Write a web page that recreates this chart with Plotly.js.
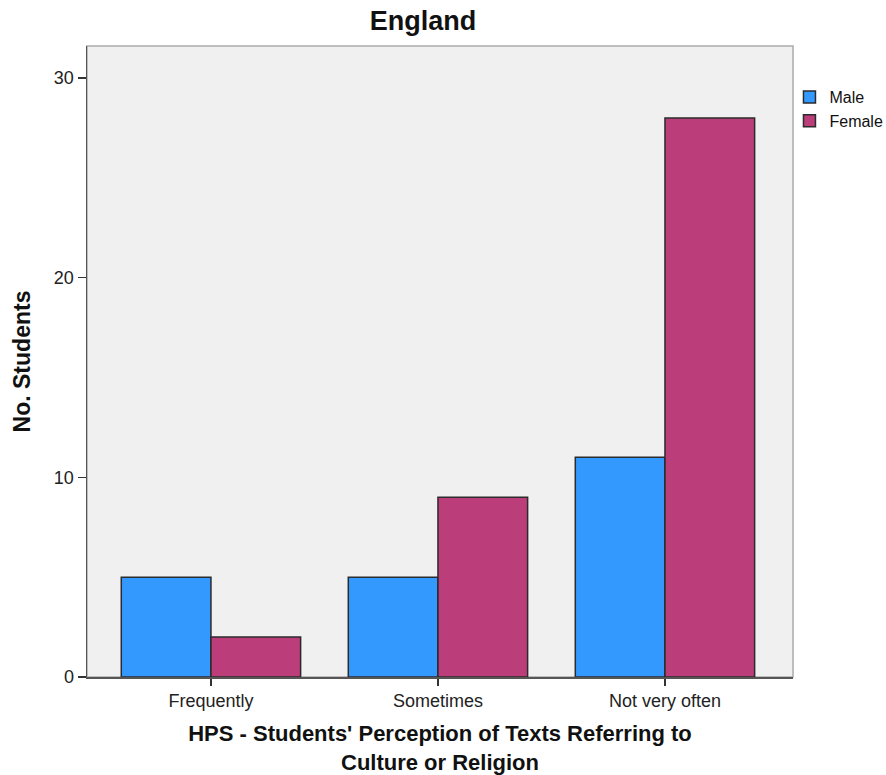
<!DOCTYPE html>
<html>
<head>
<meta charset="utf-8">
<script src="https://cdn.plot.ly/plotly-3.0.1.min.js"></script>
<style>html,body{margin:0;padding:0;background:#fff;}#chart{width:886px;height:775px;}</style>
</head>
<body>
<div id="chart"></div>
<script>
const categories = ["Frequently", "Sometimes", "Not very often"];
const maleCounts = [5, 5, 11];
const femaleCounts = [2, 9, 28];
const seriesNames = ["Male", "Female"];
const yTicks = [0, 10, 20, 30];

const traces = [
  {type: "bar", name: seriesNames[0], x: categories, y: maleCounts,
   marker: {color: "#3399ff", line: {color: "#2b2b2b", width: 1.5}}},
  {type: "bar", name: seriesNames[1], x: categories, y: femaleCounts,
   marker: {color: "#bb3d7a", line: {color: "#2b2b2b", width: 1.5}}}
];

const layout = {
  width: 886, height: 775,
  margin: {l: 87, r: 93, t: 46, b: 98, autoexpand: false},
  paper_bgcolor: "#ffffff",
  plot_bgcolor: "#f0f0f0",
  font: {family: "Liberation Sans, Arial, sans-serif", color: "#222", size: 17},
  title: {text: "<b>England</b>", font: {size: 27, color: "#111"}, x: 0.4774, xref: "container", xanchor: "center", y: 0.973, yanchor: "middle"},
  barmode: "group",
  bargap: 0.21,
  bargroupgap: 0,
  showlegend: true,
  legend: {x: 0.995, xanchor: "left", y: 0.946, yanchor: "top", font: {size: 16, color: "#111"},
           itemwidth: 30, tracegroupgap: 0, bgcolor: "rgba(0,0,0,0)"},
  xaxis: {
    type: "category", range: [-0.546, 2.564],
    showline: true, linecolor: "#555", linewidth: 1.5,
    ticks: "outside", ticklen: 7, tickcolor: "#333", tickwidth: 1.5,
    showgrid: false, zeroline: false,
    tickfont: {size: 18, color: "#222"},
    title: {text: "<b>HPS - Students' Perception of Texts Referring to<br>Culture or Religion</b>", font: {size: 22, color: "#111"}, standoff: 20}
  },
  yaxis: {
    range: [0, 31.6], tickvals: yTicks, ticktext: yTicks.map(String),
    showline: true, linecolor: "#555", linewidth: 1.5,
    ticks: "outside", ticklen: 8, tickcolor: "#333", tickwidth: 1.5,
    showgrid: false, zeroline: false,
    tickfont: {size: 18, color: "#222"},
    title: {text: "<b>No. Students</b>", font: {size: 23, color: "#111"}, standoff: 17}
  },
  shapes: [
    {type: "rect", xref: "paper", yref: "paper", x0: 0, x1: 1, y0: 0, y1: 1,
     line: {color: "#aaaaaa", width: 1.5}, fillcolor: "rgba(0,0,0,0)", layer: "below"}
  ]
};

Plotly.newPlot("chart", traces, layout, {displayModeBar: false, staticPlot: true});
</script>
</body>
</html>
